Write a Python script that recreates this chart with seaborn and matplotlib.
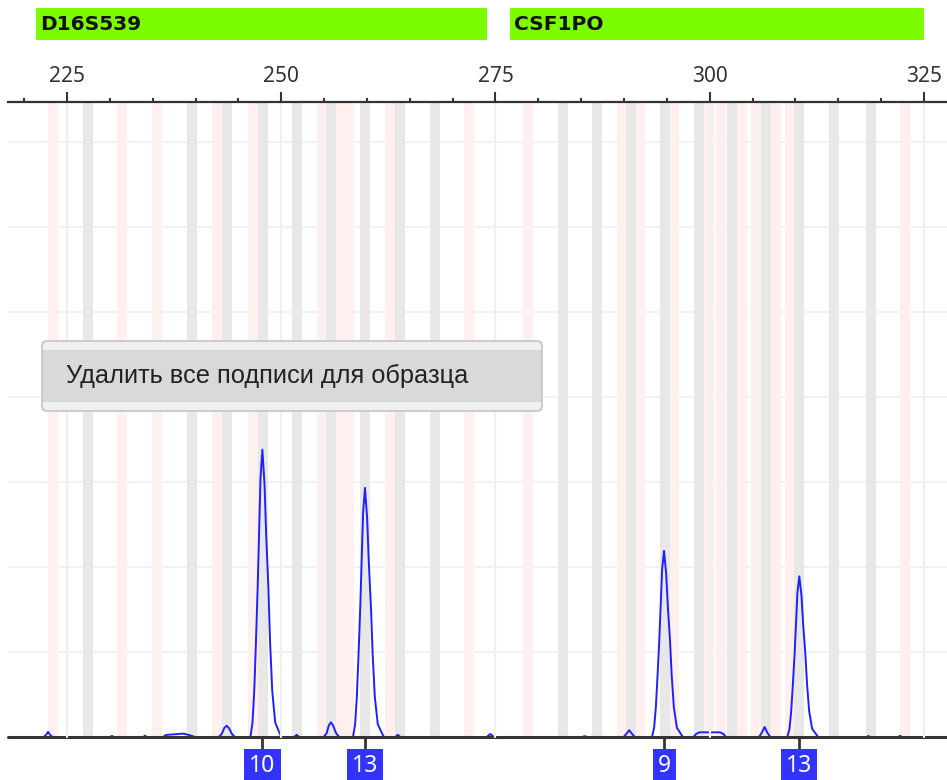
import numpy as np
import pandas as pd
import matplotlib
matplotlib.use("Agg")
import matplotlib.pyplot as plt
import matplotlib.transforms as mtransforms
from matplotlib.patches import Rectangle, FancyBboxPatch
import seaborn as sns

# ---------------- data ----------------
marker_names = ["D16S539", "CSF1PO"]
marker_start = [221.4, 276.7]
marker_end = [274.0, 325.0]

gray_bins = [227.45, 239.6, 243.7, 247.9, 251.8, 255.8, 259.8, 263.9, 267.9,
             282.9, 286.8, 290.8, 294.8, 298.7, 302.6, 306.6, 310.4, 314.5, 318.8]
pink_bins = [223.4, 231.4, 235.5, 242.5, 246.7, 254.8, 256.9, 257.9, 262.7, 271.9,
             278.8, 289.8, 291.9, 295.8, 299.9, 301.3, 303.8, 305.4, 307.7, 309.4, 322.8]

trace_bp = [
    218.1, 219.5,
    222.3, 222.6, 222.8, 223.0, 223.3,
    230.0, 230.25, 230.5,
    233.9, 234.1, 234.3,
    236.2, 236.6, 237.3, 238.0, 238.5, 239.0, 239.5, 239.9,
    242.7, 243.05, 243.35, 243.63, 243.9, 244.25, 244.6,
    246.4, 246.65, 246.85, 247.05, 247.25, 247.42, 247.58, 247.8, 248.05, 248.25, 248.5, 248.7, 248.95, 249.3, 250.0,
    251.5, 251.8, 252.1,
    254.95, 255.3, 255.55, 255.8, 256.05, 256.4, 256.75,
    258.37, 258.62, 258.82, 259.02, 259.22, 259.39, 259.55, 259.77, 260.02, 260.22, 260.47, 260.67, 260.92, 261.27, 261.97,
    263.3, 263.6, 263.9,
    274.0, 274.2, 274.4, 274.6, 274.8,
    285.1, 285.4, 285.7,
    289.95, 290.3, 290.6, 290.9, 291.25,
    293.26, 293.51, 293.71, 293.91, 294.11, 294.28, 294.44, 294.66, 294.91, 295.11, 295.36, 295.56, 295.81, 296.16, 296.86,
    298.1, 298.4, 298.8, 300.0, 301.2, 301.6, 301.9,
    305.75, 306.1, 306.4, 306.7, 307.05,
    309.05, 309.3, 309.5, 309.7, 309.9, 310.07, 310.23, 310.45, 310.7, 310.9, 311.15, 311.35, 311.6, 311.95, 312.65,
    318.3, 318.5, 318.7,
    322.0, 322.2, 322.4,
    327.7,
]
trace_rfu = [
    0, 0,
    0, 30, 60, 30, 0,
    0, 12, 0,
    0, 15, 0,
    0, 25, 30, 35, 40, 30, 15, 0,
    0, 35, 105, 133, 105, 35, 0,
    0, 169, 541, 1115, 1758, 2434, 3042, 3380, 2974, 2366, 1758, 1115, 541, 169, 0,
    0, 25, 0,
    0, 45, 135, 173, 135, 45, 0,
    0, 147, 469, 967, 1524, 2110, 2637, 2930, 2578, 2051, 1524, 967, 469, 147, 0,
    0, 25, 0,
    0, 20, 35, 20, 0,
    0, 10, 0,
    0, 40, 80, 40, 0,
    0, 110, 350, 723, 1139, 1577, 1971, 2190, 1927, 1533, 1139, 723, 350, 110, 0,
    0, 35, 55, 55, 55, 35, 0,
    0, 55, 118, 55, 0,
    0, 95, 302, 624, 983, 1361, 1701, 1890, 1663, 1323, 983, 624, 302, 95, 0,
    0, 12, 0,
    0, 15, 0,
    0,
]

call_bp = [247.8, 259.8, 294.7, 310.45]
call_labels = ["10", "13", "9", "13"]

major_ticks = [225, 250, 275, 300, 325]
minor_ticks = [220, 230, 235, 240, 245, 255, 260, 265, 270, 280, 285, 290, 295,
               305, 310, 315, 320]
grid_rfu = [1000, 2000, 3000, 4000, 5000, 6000, 7000]

menu_text = "Удалить все подписи для образца"

# ---------------- figure ----------------
sns.set_theme(style="white")
plt.rcParams["font.family"] = ["DejaVu Sans"]

W, H = 947, 780
fig = plt.figure(figsize=(W / 100, H / 100), dpi=100)
ax = fig.add_axes([8 / W, 43 / H, (W - 8) / W, 635 / H])
ax.set_xlim(218.12, 327.68)
ax.set_ylim(0, 7470)

# bins
bw = 1.17
for b in pink_bins:
    ax.axvspan(b - bw / 2, b + bw / 2, color="#ffefef", lw=0, zorder=0.5)
for b in gray_bins:
    ax.axvspan(b - bw / 2, b + bw / 2, color="#e8e8e8", lw=0, zorder=0.6)

for g in grid_rfu:
    ax.axhline(g, color="#efefef", lw=1.2, zorder=0.4)

df = pd.DataFrame({"bp": trace_bp, "rfu": trace_rfu})
sns.lineplot(data=df, x="bp", y="rfu", ax=ax, sort=False, estimator=None,
             color="#1f1fff", lw=1.4, zorder=2)

# baseline
ax.axhline(0, color="#333333", lw=2.2, zorder=3, clip_on=False)
for t in major_ticks:
    ax.axvline(t, color="#f0f0f0", lw=1.6, zorder=4, clip_on=False)

# spines / ticks
for s in ["left", "right", "bottom"]:
    ax.spines[s].set_visible(False)
ax.spines["top"].set_color("#333333")
ax.spines["top"].set_linewidth(1.6)
ax.spines["top"].set_zorder(5)
ax.xaxis.tick_top()
ax.set_xticks(major_ticks)
ax.set_xticks(minor_ticks, minor=True)
ax.set_xticklabels([str(t) for t in major_ticks], fontsize=15, color="#333333",
                   fontfamily="Noto Sans")
ax.tick_params(axis="x", which="major", direction="out", length=7.5, width=1.5,
               color="#333333", pad=3, top=True, bottom=False)
ax.tick_params(axis="x", which="minor", direction="out", length=3, width=1.5,
               color="#333333", top=True, bottom=False)
ax.set_yticks([])
ax.set_xlabel("")
ax.set_ylabel("")
ax.grid(False)

# marker header bars
btr = mtransforms.blended_transform_factory(ax.transData, fig.transFigure)
for name, s, e in zip(marker_names, marker_start, marker_end):
    fig.patches.append(Rectangle((s, (H - 40) / H), e - s, 32 / H, transform=btr,
                                 facecolor="#7cfc00", edgecolor="none"))
    fig.text(s + 0.45, (H - 24) / H, name, transform=btr, fontsize=14.5,
             fontweight="bold", color="#111111", va="center", ha="left")

# allele call labels
for x, lab in zip(call_bp, call_labels):
    fig.add_artist(plt.Line2D([x, x], [(H - 737) / H, (H - 748) / H], transform=btr,
                              color="#333333", lw=2))
    fig.text(x, (H - 766) / H, lab, transform=btr, fontsize=16.5, fontweight="bold",
             fontfamily="Noto Sans", color="white", ha="center", va="center",
             bbox=dict(boxstyle="square,pad=0.22", facecolor="#3333ff", edgecolor="none"))

# context menu
fig.patches.append(FancyBboxPatch((42 / W, (H - 411) / H), 500 / W, 70 / H,
                                  boxstyle="round,pad=0,rounding_size=0.006",
                                  transform=fig.transFigure, facecolor="#f0f0f0",
                                  edgecolor="#c4c4c4", lw=1.2, zorder=10))
fig.patches.append(Rectangle((43 / W, (H - 402) / H), 498 / W, 52 / H,
                             transform=fig.transFigure, facecolor="#d9d9d9",
                             edgecolor="none", zorder=11))
fig.text(66 / W, (H - 376) / H, menu_text, fontsize=18.3, fontfamily="Liberation Sans",
         color="#222222", ha="left", va="center", zorder=12)

fig.savefig("out.png", dpi=100)
